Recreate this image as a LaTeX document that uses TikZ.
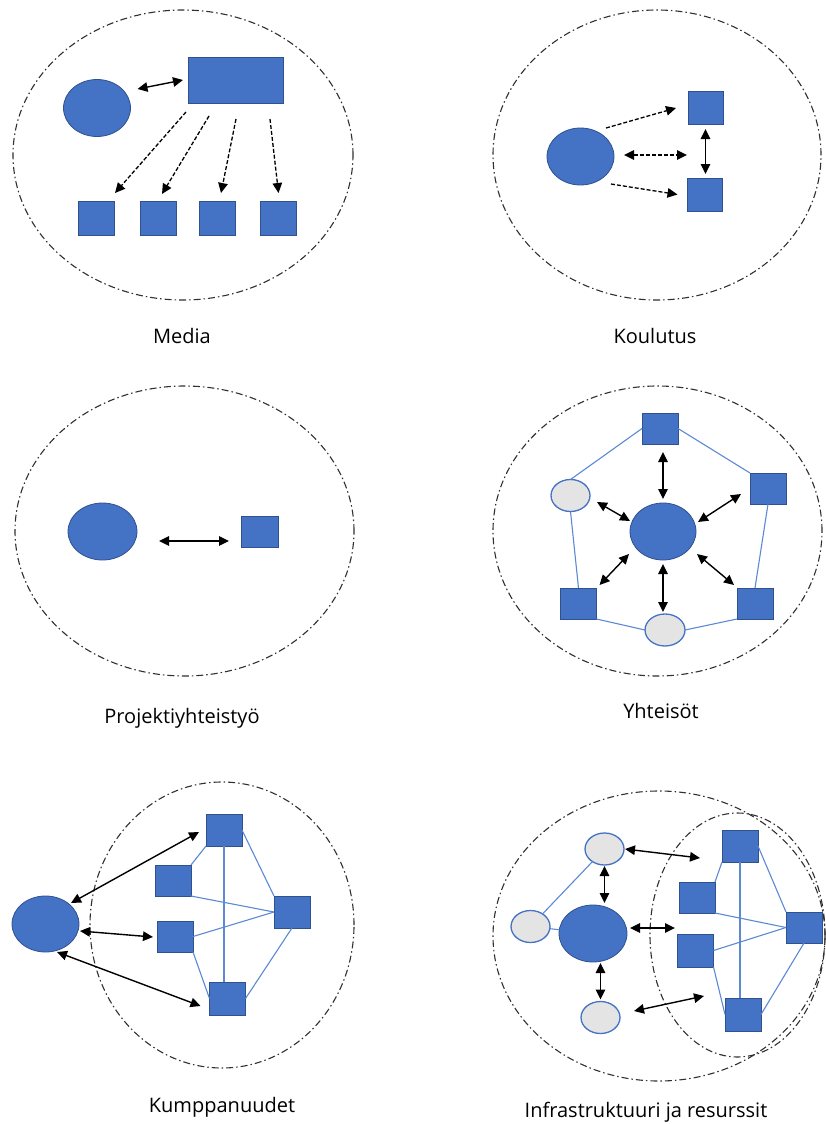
\documentclass[tikz,border=0pt]{standalone}
\usepackage{fontspec}
\setmainfont{Open Sans}
\usetikzlibrary{shapes.geometric,arrows.meta,calc}
\definecolor{myblue}{HTML}{4472C4}
\definecolor{myborder}{HTML}{2F528F}
\definecolor{mylink}{HTML}{5B89D2}
\definecolor{mygray}{HTML}{E4E4E4}
\definecolor{zonecol}{HTML}{303030}
\tikzset{
  bnode/.style={fill=myblue, draw=myborder, line width=0.8pt, inner sep=0pt, outer sep=0pt},
  bell/.style={bnode, ellipse},
  bsq/.style={bnode, rectangle, minimum width=36pt, minimum height=32pt},
  gell/.style={ellipse, fill=mygray, draw=myblue, line width=1.3pt, minimum width=39pt, minimum height=32pt, inner sep=0pt, outer sep=0pt},
  zone/.style={ellipse, draw=zonecol, line width=1.1pt, dash pattern=on 7pt off 3pt on 1.5pt off 3pt, inner sep=0pt},
  link/.style={draw=mylink, line width=1.1pt},
  tip/.tip={Triangle[length=10pt,width=9.5pt]},
  dbl/.style={tip-tip, line width=1.4pt, black},
  one/.style={-tip, line width=1.3pt, black},
  dsh/.style={dash pattern=on 4pt off 2pt},
  lbl/.style={font=\fontsize{20}{24}\selectfont, anchor=base, inner sep=0pt}
}
\begin{document}
\begin{tikzpicture}[x=1pt,y=-1pt]
\useasboundingbox (0,0) rectangle (826,1124);

% ---------- Media ----------
\node[zone, minimum width=340pt, minimum height=290pt] (Mz) at (183,155) {};
\node[bell, minimum width=67pt, minimum height=57pt] (Mc) at (97,108) {};
\node[bnode, minimum width=95pt, minimum height=46pt] (Mr) at (235.5,80) {};
\node[bsq, minimum height=34pt] (M1) at (96,218) {};
\node[bsq, minimum height=34pt] (M2) at (158.5,218) {};
\node[bsq, minimum height=34pt] (M3) at (217.5,218) {};
\node[bsq, minimum height=34pt] (M4) at (278.5,218) {};
\draw[dbl] ([shift={(7,-19)}]Mc.east) -- ([shift={(-5,0)}]Mr.west);
\draw[one, dsh] ([shift={(-49.5,9)}]Mr.south) -- ([shift={(19,-8)}]M1.north);
\draw[one, dsh] ([shift={(-26.5,13)}]Mr.south) -- ([shift={(3.5,-7)}]M2.north);
\draw[one, dsh] ([shift={(0.5,16)}]Mr.south) -- ([shift={(3.5,-8)}]M3.north);
\draw[one, dsh] ([shift={(34.5,16)}]Mr.south) -- ([shift={(0,-8)}]M4.north);
\node[lbl] (Ml) at (182,343) {Media};

% ---------- Koulutus ----------
\node[zone, minimum width=328pt, minimum height=290pt] (Kz) at (657,155) {};
\node[bell, minimum width=67pt, minimum height=57pt] (Kc) at (580.5,156.5) {};
\node[bsq, minimum width=35pt, minimum height=33pt] (Kt) at (705.5,107.5) {};
\node[bsq, minimum width=35pt, minimum height=33pt] (Kb) at (705,194.5) {};
\draw[one, dsh] ([shift={(25.5,0)}]Kc.north) -- ([shift={(-12,0.5)}]Kt.west);
\draw[dbl, dsh, line width=1.3pt] ([shift={(10,-1.5)}]Kc.east) -- ([shift={(-18,-23)}]Kb.north);
\draw[one, dsh] ([shift={(30.5,-1)}]Kc.south) -- ([shift={(-10,0)}]Kb.west);
\draw[dbl, shorten <=5pt, shorten >=4pt] (Kt.south) -- (Kt.south |- Kb.north);
\node[lbl] (Kl) at (655,343) {Koulutus};

% ---------- Projektiyhteistyo ----------
\node[zone, minimum width=339pt, minimum height=290pt] (Pz) at (184.5,531) {};
\node[bell, minimum width=69pt, minimum height=57pt] (Pc) at (102.5,531.5) {};
\node[bsq, minimum width=37pt, minimum height=31pt] (Ps) at (259.5,531.5) {};
\draw[dbl] ([shift={(22,9.5)}]Pc.east) -- ([shift={(-12,9.5)}]Ps.west);
\node[lbl] (Pl) at (182,723) {Projektiyhteistyö};

% ---------- Yhteisot ----------
\node[zone, minimum width=329pt, minimum height=290pt] (Yz) at (657.5,531) {};
\node[bsq, minimum height=31pt] (Yt) at (660,428.5) {};
\node[bsq, minimum height=31pt] (Yr) at (768,488.5) {};
\node[bsq, minimum height=31pt] (Ybl) at (578.5,603.5) {};
\node[bsq, minimum height=31pt] (Ybr) at (755,603.5) {};
\node[gell] (Yl) at (570.5,495.5) {};
\node[gell, minimum width=40pt] (Yb) at (665,630) {};
\draw[link] (Yt.west) -- (Yl.north);
\draw[link] (Yt.east) -- (Yr.north west);
\draw[link] (Yr.south) -- (Ybr.north);
\draw[link] (Ybr.south west) -- (Yb.east);
\draw[link] (Yb.west) -- (Ybl.south east);
\draw[link] (Ybl.north) -- (Yl.south);
\node[bell, minimum width=66pt, minimum height=57pt] (Yc) at (663,531.5) {};
\draw[dbl, shorten <=4pt, shorten >=8pt] (Yc.north) -- (Yc.north |- Yt.south);
\draw[dbl, shorten <=4pt, shorten >=2pt] (Yc.south) -- (Yc.south |- Yb.north);
\draw[dbl] ([shift={(2,-9.5)}]Yc.east) -- ([shift={(-9,-10)}]Yr.south west);
\draw[dbl] ([shift={(7,6.5)}]Yl.east) -- ([shift={(0,-10.5)}]Yc.west);
\draw[dbl] ([shift={(-1,22.5)}]Yc.west) -- ([shift={(3,-3)}]Ybl.north east);
\draw[dbl] ([shift={(1,22.5)}]Yc.east) -- ([shift={(-3,-3)}]Ybr.north west);
\node[lbl] (Yl2) at (661,718) {Yhteisöt};

% ---------- Kumppanuudet ----------
\node[zone, minimum width=264pt, minimum height=286pt] (Uz) at (222,925) {};
\node[bsq] (Ut) at (224,830) {};
\node[bsq, minimum height=31pt] (Ulu) at (173,880.5) {};
\node[bsq, minimum height=31pt] (Ull) at (175,936.5) {};
\node[bsq] (Ur) at (292,912) {};
\node[bsq, minimum height=33pt] (Ub) at (227.5,998.5) {};
\draw[link] (Ut.south west) -- (Ulu.north east);
\draw[link] (Ut.south) -- (Ut.south |- Ub.north);
\draw[link] (Ut.east) -- (Ur.north west);
\draw[link] (Ulu.south east) -- (Ur.west);
\draw[link] (Ull.east) -- (Ur.west);
\draw[link] (Ull.south east) -- (Ub.west);
\draw[link] (Ur.south) -- (Ub.east);
\node[bell, minimum width=67pt, minimum height=56pt] (Uc) at (45.5,924) {};
\draw[dbl] ([shift={(-8,-21)}]Uc.east) -- ([shift={(-7,2)}]Ut.west);
\draw[dbl] ([shift={(1,7)}]Uc.east) -- ([shift={(-4,0.5)}]Ull.west);
\draw[dbl] ([shift={(11.5,0)}]Uc.south) -- ([shift={(-9,7.5)}]Ub.west);
\node[lbl] (Ul) at (222,1112) {Kumppanuudet};

% ---------- Infrastruktuuri ja resurssit ----------
\node[zone, minimum width=332pt, minimum height=290pt] (Iz) at (659,936) {};
\node[zone, minimum width=175pt, minimum height=244pt] (Iz2) at (737.5,935) {};
\node[bsq] (It) at (740,846) {};
\node[bsq, minimum height=31pt] (Ilu) at (697,897.5) {};
\node[bsq, minimum height=33pt] (Ill) at (695.5,950.5) {};
\node[bsq, minimum height=31pt] (Ir) at (804,927.5) {};
\node[bsq, minimum height=33pt] (Ib) at (743,1014.5) {};
\draw[link] (It.south west) -- (Ilu.north east);
\draw[link] (It.south) -- (It.south |- Ib.north);
\draw[link] (It.east) -- (Ir.north west);
\draw[link] (Ilu.south east) -- (Ir.west);
\draw[link] (Ill.east) -- (Ir.west);
\draw[link] (Ill.south east) -- (Ib.west);
\draw[link] (Ir.south) -- (Ib.east);
\node[gell] (Igt) at (604.5,849) {};
\node[gell] (Igl) at (530.5,926.5) {};
\node[gell] (Igb) at (600.5,1017.5) {};
\node[bell, minimum width=68pt, minimum height=57pt] (Ic) at (593,933.5) {};
\draw[link] (Igl) -- (Igt);
\draw[link] (Igl) -- (Ic);
\draw[dbl] ([shift={(1,0)}]Igt.east) -- ([shift={(-22,12)}]It.west);
\draw[dbl, shorten <=1pt, shorten >=2pt] (Igt.south) -- (Igt.south |- Ic.north);
\draw[dbl] ([shift={(3,-5.5)}]Ic.east) -- ([shift={(48,-5.5)}]Ic.east);
\draw[dbl, shorten <=1pt, shorten >=2pt] (Igb.north |- Ic.south) -- (Igb.north);
\draw[dbl] ([shift={(14,-6.5)}]Igb.east) -- ([shift={(-21,-18.5)}]Ib.west);
\node[lbl] (Il) at (646,1117) {Infrastruktuuri ja resurssit};
\end{tikzpicture}
\end{document}
